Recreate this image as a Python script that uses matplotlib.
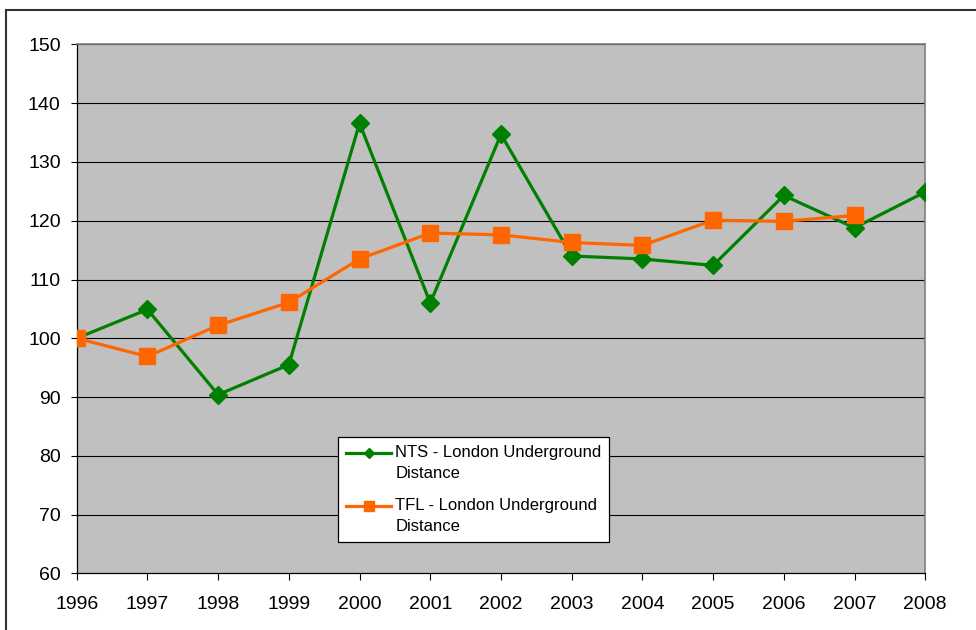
import matplotlib
matplotlib.use("Agg")
import numpy as np
import matplotlib.pyplot as plt
from matplotlib.lines import Line2D
from matplotlib.legend_handler import HandlerLine2D

plt.rcParams['font.family'] = ['Liberation Sans', 'DejaVu Sans']

years = [1996, 1997, 1998, 1999, 2000, 2001, 2002, 2003, 2004, 2005, 2006, 2007, 2008]
nts = [100.0, 104.9, 90.4, 95.5, 136.6, 106.0, 134.7, 114.0, 113.5, 112.4, 124.3, 118.8, 124.9]
tfl_years = years[:-1]
tfl = [100.0, 96.9, 102.2, 106.1, 113.5, 117.9, 117.6, 116.3, 115.8, 120.1, 119.9, 120.9]
yticks = [60, 70, 80, 90, 100, 110, 120, 130, 140, 150]


class UpHandler(HandlerLine2D):
    def create_artists(self, legend, orig_handle, xdescent, ydescent, width,
                       height, fontsize, trans):
        arts = super().create_artists(legend, orig_handle, xdescent, ydescent,
                                      width, height, fontsize, trans)
        for a in arts:
            a.set_ydata(np.asarray(a.get_ydata(), dtype=float) + fontsize * 0.62)
        return arts


fig = plt.figure(figsize=(9.76, 6.30), dpi=100)
ax = fig.add_axes([0.0786, 0.09, 0.8694, 0.8394])
ax.set_facecolor('#C0C0C0')

for y in yticks[1:]:
    ax.axhline(y, color='black', lw=0.8, zorder=1)

l1, = ax.plot(years, nts, color='#008000', lw=2.3, marker='D', markersize=9,
              label='NTS - London Underground\nDistance', zorder=3)
l2, = ax.plot(tfl_years, tfl, color='#FF6600', lw=2.3, marker='s', markersize=11,
              label='TFL - London Underground\nDistance', zorder=3)

ax.set_xlim(1996, 2008)
ax.set_ylim(60, 150)
ax.set_xticks(years)
ax.set_yticks(yticks)
ax.tick_params(axis='both', direction='out', width=0.8, labelsize=14, colors='black')
ax.tick_params(axis='x', length=5, pad=11)
ax.tick_params(axis='y', length=4.5, pad=7)

for s in ['top', 'right']:
    ax.spines[s].set_color('#808080')
    ax.spines[s].set_linewidth(1.2)
for s in ['bottom', 'left']:
    ax.spines[s].set_color('black')
    ax.spines[s].set_linewidth(0.9)

leg = ax.legend(loc='upper left', bbox_to_anchor=(0.308, 0.258), fontsize=12.0,
                frameon=True, fancybox=False, framealpha=1, edgecolor='black',
                borderaxespad=0, handlelength=2.7, handletextpad=0.25,
                labelspacing=1.05, borderpad=0.48, markerscale=0.6,
                handler_map={l1: UpHandler(), l2: UpHandler()})
for t in leg.get_texts():
    t.set_linespacing(1.5)
leg.get_frame().set_linewidth(0.9)
leg.set_zorder(5)

# figure border (left and top visible)
fig.add_artist(Line2D([0.0062, 0.0062], [0, 0.984], color='#333333', lw=1.5, transform=fig.transFigure))
fig.add_artist(Line2D([0.0062, 1.0], [0.984, 0.984], color='#333333', lw=1.5, transform=fig.transFigure))

fig.savefig('out.png', dpi=100)
